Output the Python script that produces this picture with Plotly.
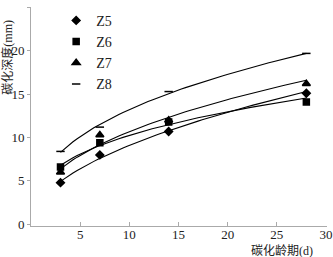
import numpy as np
import plotly.graph_objects as go

days = [3, 7, 14, 28]
z5 = [4.8, 8.0, 10.7, 15.1]
z6 = [6.6, 9.4, 11.8, 14.1]
z7 = [6.0, 10.3, 12.0, 16.2]
z8 = [8.4, 11.2, 15.3, 19.7]

series = [
    ("Z5", z5, "diamond", 6),
    ("Z6", z6, "square", 6),
    ("Z7", z7, "triangle-up", 7),
    ("Z8", z8, "line-ew-open", 6),
]

FONT = "Liberation Serif, Noto Sans CJK SC, serif"
fig = go.Figure()

# fitted power-law trend lines (least squares in log space)
tfit = np.linspace(days[0], days[-1], 60)
for name, ys, sym, sz in series:
    b, loga = np.polyfit(np.log(days), np.log(ys), 1)
    fig.add_trace(go.Scatter(x=tfit, y=np.exp(loga) * tfit ** b, mode="lines",
                             line=dict(color="black", width=1.1),
                             showlegend=False, hoverinfo="skip"))

for name, ys, sym, sz in series:
    fig.add_trace(go.Scatter(x=days, y=ys, mode="markers", name=name,
                             marker=dict(symbol=sym, size=sz, color="black",
                                         line=dict(color="black", width=1.5))))

fig.update_layout(
    width=333, height=257,
    margin=dict(l=31, r=6, t=5, b=31),
    plot_bgcolor="white", paper_bgcolor="white",
    font=dict(family=FONT, size=13, color="#222"),
    legend=dict(x=0.085, y=1.01, xanchor="left", yanchor="top",
                bgcolor="rgba(0,0,0,0)", font=dict(size=14, family=FONT),
                itemwidth=30, tracegroupgap=0),
    xaxis=dict(range=[0, 30.1], tickvals=[5, 10, 15, 20, 25, 30],
               showgrid=False, zeroline=False, showline=True, automargin=False,
               linecolor="#aaa", linewidth=1, ticks="inside", ticklen=4,
               ticklabelstandoff=-4,
               tickcolor="#aaa", tickfont=dict(size=13, family=FONT)),
    yaxis=dict(range=[-0.2, 25.05], tickvals=[0, 5, 10, 15, 20, 25],
               ticktext=["0", "5", "10", "15", "20", "25"],
               showgrid=False, zeroline=False, showline=True, automargin=False,
               linecolor="#aaa", linewidth=1, ticks="outside", ticklen=3,
               tickcolor="#aaa", tickfont=dict(size=13, family=FONT)),
    annotations=[
        dict(text="碳化深度(mm)", xref="paper", yref="paper", x=-0.08, y=0.77,
             xanchor="center", yanchor="middle", textangle=-90, showarrow=False,
             font=dict(size=12, family=FONT)),
        dict(text="碳化龄期(d)", xref="paper", yref="paper", x=0.96, y=-0.115,
             xanchor="right", yanchor="middle", showarrow=False,
             font=dict(size=12, family=FONT)),
    ],
)

fig.write_html("out.html")
